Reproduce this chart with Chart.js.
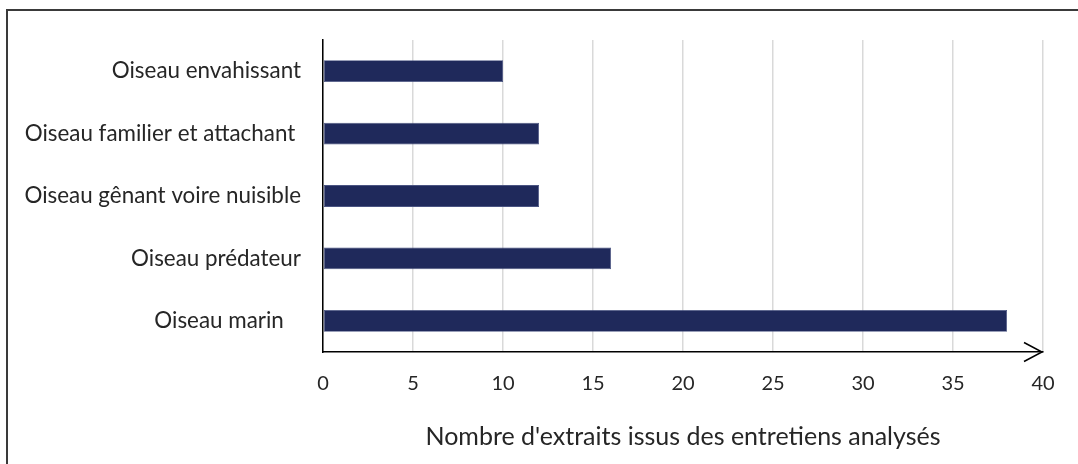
<!DOCTYPE html>
<html>
<head>
<meta charset="utf-8">
<script src="https://cdn.jsdelivr.net/npm/chart.js@4"></script>
<style>
  body { margin: 0; background: #fff; }
  #wrap { position: relative; width: 1078px; height: 464px; }
  #frame { position: absolute; left: 6px; top: 9px; right: -10px; bottom: -10px;
           border-left: 2px solid #3a3a3a; border-top: 2px solid #3a3a3a; pointer-events: none; }
</style>
</head>
<body>
<div id="wrap">
  <canvas id="chart" width="1078" height="464"></canvas>
  <div id="frame"></div>
</div>
<script>
// categories top to bottom (trailing spaces kept as in the original labels)
const categories = [
  'Oiseau envahissant',
  'Oiseau familier et attachant ',
  'Oiseau gênant voire nuisible',
  'Oiseau prédateur',
  'Oiseau marin   '
];
const extraits = [10, 12, 12, 16, 38];
const xTitle = "Nombre d'extraits issus des entretiens analysés";

const FONT = "Lato, sans-serif";
const TEXT = '#262626';

// open arrow head at the end of the x axis
const axisArrow = {
  id: 'axisArrow',
  afterDraw(chart) {
    const ctx = chart.ctx;
    const x = chart.scales.x.getPixelForValue(40) - 1;
    const y = chart.chartArea.bottom;
    ctx.save();
    ctx.strokeStyle = '#000';
    ctx.lineWidth = 1.5;
    ctx.beginPath();
    ctx.moveTo(x - 18, y - 9.5);
    ctx.lineTo(x, y);
    ctx.lineTo(x - 18, y + 9.5);
    ctx.stroke();
    ctx.restore();
  }
};

new Chart(document.getElementById('chart'), {
  type: 'bar',
  data: {
    labels: categories,
    datasets: [{
      data: extraits,
      backgroundColor: '#1f295b',
      borderColor: '#4a5482',
      borderWidth: 0.8,
      borderSkipped: false,
      barPercentage: 0.7,
      categoryPercentage: 0.5
    }]
  },
  options: {
    indexAxis: 'y',
    responsive: false,
    animation: false,
    layout: { padding: { left: 0, right: 35, top: 40, bottom: 0 } },
    plugins: { legend: { display: false }, tooltip: { enabled: false } },
    scales: {
      x: {
        min: 0,
        max: 40,
        ticks: { stepSize: 5, color: TEXT, padding: 20, font: { family: FONT, size: 20 } },
        grid: { color: '#d9d9d9', lineWidth: 1.5, drawTicks: false },
        border: { display: true, color: '#000', width: 1.5 },
        title: {
          display: true,
          text: xTitle,
          color: TEXT,
          font: { family: FONT, size: 25 },
          padding: { top: 0, bottom: 12 }
        },
        afterFit: (scale) => { scale.height = 112; }
      },
      y: {
        ticks: { color: TEXT, padding: 22, font: { family: FONT, size: 22.4 } },
        grid: { display: false, drawTicks: false },
        border: { display: true, color: '#000', width: 1.5 },
        afterFit: (scale) => { scale.width = 323; }
      }
    }
  },
  plugins: [axisArrow]
});
</script>
</body>
</html>
